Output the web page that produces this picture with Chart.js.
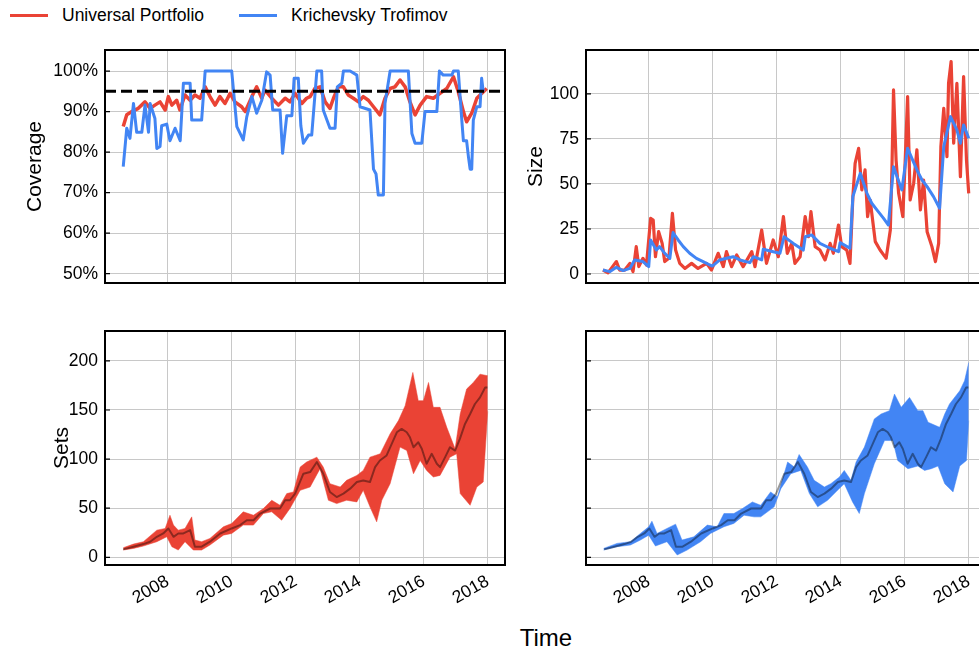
<!DOCTYPE html>
<html lang="en">
<head>
<meta charset="UTF-8">
<title>Coverage, Size and Sets over Time</title>
<script src="https://cdn.jsdelivr.net/npm/chart.js"></script>
<style>
  html, body { margin: 0; padding: 0; background: #fff; }
  body {
    width: 979px; height: 655px; overflow: hidden; position: relative;
    font-family: 'Liberation Sans', Arial, sans-serif; color: #000;
  }
  .panel { position: absolute; }
  .legend { position: absolute; top: 5px; left: 10px; height: 20px; display: flex; align-items: center; font-size: 17.5px; }
  .legend .item { display: flex; align-items: center; margin-right: 35px; }
  .legend .swatch { display: inline-block; width: 38px; height: 3px; margin-right: 14px; }
  .xlabel { position: absolute; left: 446px; width: 200px; top: 624px; line-height: 28px; font-size: 24px; text-align: center; }
</style>
</head>
<body>
  <div class="legend">
    <span class="item"><span class="swatch" style="background:#EA4335"></span>Universal Portfolio</span>
    <span class="item"><span class="swatch" style="background:#4285F4"></span>Krichevsky Trofimov</span>
  </div>
  <canvas id="coverage" class="panel" width="515" height="250" style="left:0;top:40px"></canvas>
  <canvas id="size" class="panel" width="500" height="250" style="left:500px;top:40px"></canvas>
  <canvas id="setsUp" class="panel" width="515" height="300" style="left:0;top:320px"></canvas>
  <canvas id="setsKt" class="panel" width="500" height="300" style="left:500px;top:320px"></canvas>
  <div class="xlabel">Time</div>

<script>
// ---- data (decimal years / values) ----
const yearTicks = [2008, 2010, 2012, 2014, 2016, 2018];
const coverageTicks = [50, 60, 70, 80, 90, 100];
const sizeTicks = [0, 25, 50, 75, 100];
const setsTicks = [0, 50, 100, 150, 200];
const coverageTarget = 95;

// coverage, Universal Portfolio
const covUpYears = [2006.61, 2006.72, 2006.88, 2007.08, 2007.29, 2007.45, 2007.60, 2007.76, 2007.92, 2008.02, 2008.13, 2008.28, 2008.38, 2008.54, 2008.70, 2008.85, 2009.01, 2009.17, 2009.32, 2009.48, 2009.63, 2009.79, 2009.95, 2010.10, 2010.31, 2010.42, 2010.63, 2010.78, 2010.94, 2011.04, 2011.25, 2011.46, 2011.67, 2011.82, 2011.98, 2012.19, 2012.34, 2012.45, 2012.60, 2012.76, 2012.92, 2013.07, 2013.18, 2013.33, 2013.49, 2013.64, 2013.80, 2013.96, 2014.11, 2014.27, 2014.43, 2014.63, 2014.79, 2014.95, 2015.10, 2015.26, 2015.42, 2015.57, 2015.73, 2015.89, 2016.09, 2016.30, 2016.51, 2016.72, 2016.93, 2017.08, 2017.24, 2017.34, 2017.50, 2017.66, 2017.81, 2017.97];
const covUp = [86.3, 89.2, 90, 90.8, 92.4, 90.8, 91.6, 92.4, 90.4, 93.7, 91.6, 92.8, 90.4, 94.1, 92.8, 94.1, 93.3, 96.1, 93.7, 91.6, 93.7, 92, 94.5, 92.4, 91.2, 90, 93.7, 96.1, 93.3, 95.3, 93.3, 91.6, 93.3, 92.4, 94.5, 92, 93.3, 93.7, 95.7, 96.1, 92.4, 90.8, 93.3, 96.1, 96.1, 94.1, 93.3, 92.4, 93.7, 92.8, 91.2, 89.2, 93.3, 95.7, 96.1, 97.8, 96.1, 92.4, 89.2, 91.6, 93.7, 93.3, 94.5, 95.7, 98.6, 94.9, 90, 87.5, 89.6, 93.3, 94.5, 95.7];

// coverage, Krichevsky Trofimov
const covKtYears = [2006.61, 2006.72, 2006.82, 2006.93, 2007.03, 2007.19, 2007.29, 2007.40, 2007.45, 2007.60, 2007.66, 2007.76, 2007.81, 2007.97, 2008.07, 2008.23, 2008.39, 2008.49, 2008.70, 2008.75, 2009.06, 2009.17, 2010.00, 2010.16, 2010.36, 2010.47, 2010.63, 2010.78, 2010.94, 2011.09, 2011.20, 2011.28, 2011.51, 2011.59, 2011.72, 2011.88, 2011.95, 2012.08, 2012.16, 2012.24, 2012.40, 2012.50, 2012.66, 2012.81, 2012.86, 2013.07, 2013.23, 2013.30, 2013.44, 2013.49, 2013.70, 2013.91, 2014.01, 2014.32, 2014.43, 2014.51, 2014.58, 2014.74, 2014.79, 2014.95, 2015.52, 2015.63, 2015.73, 2015.94, 2016.04, 2016.41, 2016.49, 2016.61, 2016.88, 2016.93, 2017.08, 2017.19, 2017.24, 2017.34, 2017.40, 2017.45, 2017.50, 2017.55, 2017.66, 2017.76, 2017.81, 2017.86];
const covKt = [76.4, 85.9, 83.4, 92, 84.9, 84.9, 91.6, 84.9, 92, 88.3, 80.9, 81.4, 86.5, 86.9, 82.8, 85.9, 82.8, 97, 97, 87.9, 87.9, 100, 100, 86.3, 83, 88.7, 93.7, 89.6, 92.8, 99.8, 99, 90.4, 90.4, 79.7, 89, 89, 98.2, 98.2, 86.5, 82.2, 84.2, 84.2, 100, 100, 90.4, 85.9, 85.9, 96.1, 97, 100, 100, 99, 91.2, 90.4, 75.8, 74.6, 69.4, 69.4, 92, 100, 100, 84.6, 82.2, 82.2, 90, 90, 100, 99, 99, 100, 100, 87.9, 82.8, 82.8, 78.7, 75.8, 75.8, 87.9, 91.2, 91.2, 98.2, 95];

// size, Universal Portfolio
const sizeUpYears = [2006.57, 2006.73, 2006.83, 2006.99, 2007.09, 2007.25, 2007.41, 2007.51, 2007.61, 2007.69, 2007.82, 2007.93, 2008.06, 2008.14, 2008.21, 2008.31, 2008.42, 2008.50, 2008.63, 2008.74, 2008.84, 2008.97, 2009.13, 2009.34, 2009.54, 2009.81, 2009.96, 2010.17, 2010.33, 2010.43, 2010.59, 2010.75, 2010.95, 2011.22, 2011.32, 2011.53, 2011.68, 2011.89, 2012.05, 2012.21, 2012.33, 2012.47, 2012.57, 2012.73, 2012.89, 2012.99, 2013.07, 2013.20, 2013.35, 2013.51, 2013.67, 2013.77, 2013.93, 2014.03, 2014.19, 2014.29, 2014.38, 2014.45, 2014.56, 2014.66, 2014.76, 2014.84, 2014.92, 2015.08, 2015.23, 2015.42, 2015.55, 2015.60, 2015.65, 2015.73, 2015.81, 2015.94, 2016.02, 2016.09, 2016.17, 2016.28, 2016.38, 2016.49, 2016.59, 2016.70, 2016.85, 2016.96, 2017.06, 2017.13, 2017.22, 2017.32, 2017.37, 2017.45, 2017.53, 2017.63, 2017.74, 2017.84, 2017.93, 2018.00];
const sizeUp = [2.2, 0.7, 3.1, 6.9, 2.2, 2.2, 5.9, 1.3, 15.2, 4.1, 8.7, 5, 30.9, 30, 9.6, 23.5, 17, 6.9, 8.7, 33.7, 13.3, 5.9, 3.1, 5.9, 3.1, 5.9, 2.2, 11.5, 4.1, 12.4, 4.1, 10.6, 4.1, 12.4, 4.1, 24.4, 5.9, 18.9, 9.6, 31.9, 11.5, 17, 5.9, 9.6, 31.9, 20.7, 34.6, 15.2, 13.3, 7.8, 17, 11.5, 27.2, 15.2, 13.3, 5.9, 43, 61.5, 69.8, 46.7, 57.8, 31.9, 41.1, 18, 13.3, 8.7, 24.4, 57.8, 102.2, 63.3, 44.8, 31.9, 65.2, 98.5, 41.1, 50.4, 68.9, 35.6, 52.2, 23.5, 15.2, 6.9, 17, 70.7, 92, 65.2, 105.9, 118, 72.6, 105.9, 54.1, 109.6, 63.3, 44.8];

// size, Krichevsky Trofimov
const sizeKtYears = [2006.57, 2006.78, 2006.99, 2007.20, 2007.41, 2007.56, 2007.82, 2008.00, 2008.06, 2008.24, 2008.34, 2008.50, 2008.66, 2008.76, 2008.92, 2009.08, 2009.28, 2009.49, 2009.70, 2009.91, 2009.99, 2010.22, 2010.43, 2010.64, 2010.85, 2011.16, 2011.27, 2011.53, 2011.58, 2011.89, 2012.10, 2012.23, 2012.52, 2012.83, 2012.89, 2013.09, 2013.35, 2013.67, 2013.93, 2013.98, 2014.29, 2014.38, 2014.61, 2014.82, 2014.97, 2015.13, 2015.34, 2015.49, 2015.65, 2015.91, 2016.09, 2016.38, 2016.54, 2016.70, 2016.90, 2017.09, 2017.22, 2017.43, 2017.63, 2017.74, 2017.84, 2018.00];
const sizeKt = [2.2, 1.3, 3.7, 1.9, 3.1, 7.8, 6.9, 4.1, 18.9, 13.3, 15.2, 11.5, 8.7, 23, 18.9, 15.2, 11.5, 8.7, 6.9, 5, 4.4, 7.8, 8.7, 9.6, 7.8, 6.3, 9.6, 7.8, 13.7, 12.4, 11.5, 20.7, 17, 13.3, 20.7, 21.7, 17, 14.3, 12.4, 17.4, 14.3, 43, 55.9, 44.8, 39.3, 35.6, 30.9, 27.2, 59.6, 46.7, 69.8, 57.8, 52.2, 48.5, 43, 36.5, 70.7, 87.4, 80, 72.6, 82.8, 75.4];

// sets: the series itself (dark line) and the band of each method
const priceYears = [2006.61, 2006.93, 2007.24, 2007.45, 2007.66, 2007.86, 2008.02, 2008.18, 2008.33, 2008.49, 2008.70, 2008.85, 2009.06, 2009.32, 2009.64, 2010.00, 2010.26, 2010.47, 2010.68, 2010.89, 2011.20, 2011.51, 2011.67, 2011.82, 2011.98, 2012.24, 2012.45, 2012.66, 2012.86, 2013.07, 2013.28, 2013.49, 2013.70, 2013.91, 2014.11, 2014.32, 2014.48, 2014.63, 2014.84, 2015.00, 2015.16, 2015.31, 2015.47, 2015.57, 2015.68, 2015.83, 2015.94, 2016.09, 2016.25, 2016.41, 2016.51, 2016.67, 2016.82, 2016.98, 2017.13, 2017.29, 2017.45, 2017.60, 2017.76, 2017.92, 2017.99];
const price = [8.1, 10.8, 13.5, 15.9, 20.9, 24.3, 29.4, 20.9, 24.3, 24.3, 27.7, 10.8, 10.8, 15.9, 24.3, 29.4, 32.8, 37.8, 37.8, 44.6, 49.7, 49.7, 58.1, 58.1, 64.9, 85.1, 86.8, 97, 85.1, 66.5, 61.4, 64.9, 69.9, 76.6, 78.3, 76.6, 91.8, 98.6, 103.7, 115.5, 127.3, 130.7, 127.3, 122.2, 112.1, 117.2, 110.5, 95.3, 105.4, 95.3, 91.8, 102, 112.1, 108.7, 120.6, 135.8, 145.9, 156.1, 162.8, 172.9, 172.9];

const upHiYears = [2006.61, 2006.93, 2007.24, 2007.66, 2007.92, 2008.07, 2008.18, 2008.33, 2008.54, 2008.75, 2008.85, 2009.06, 2009.32, 2009.74, 2010.00, 2010.36, 2010.68, 2010.99, 2011.25, 2011.51, 2011.72, 2011.93, 2012.14, 2012.34, 2012.66, 2012.86, 2013.07, 2013.39, 2013.59, 2013.91, 2014.11, 2014.32, 2014.64, 2014.95, 2015.21, 2015.42, 2015.66, 2015.83, 2015.99, 2016.15, 2016.30, 2016.51, 2016.72, 2016.98, 2017.14, 2017.34, 2017.55, 2017.76, 2018.00];
const upHi = [9.8, 13.5, 15.9, 27.7, 29.4, 42.9, 32.8, 27.7, 29.4, 41.2, 17.6, 15.9, 19.3, 31.1, 34.5, 46.3, 42.9, 49.7, 58.1, 53, 64.9, 66.6, 91.9, 97, 102, 91.9, 75, 71.6, 78.4, 83.4, 88.5, 102, 105.4, 125.7, 139.2, 154.4, 188.2, 159.5, 159.5, 178, 152.7, 152.7, 132.4, 110.5, 145.9, 171.3, 178, 186.5, 184.8];
const upLoYears = [2006.61, 2006.93, 2007.24, 2007.66, 2007.97, 2008.13, 2008.33, 2008.54, 2008.80, 2009.06, 2009.32, 2009.74, 2010.00, 2010.36, 2010.68, 2010.99, 2011.25, 2011.56, 2011.82, 2012.14, 2012.45, 2012.76, 2013.02, 2013.28, 2013.59, 2013.91, 2014.11, 2014.32, 2014.53, 2014.69, 2014.95, 2015.26, 2015.47, 2015.68, 2015.89, 2016.09, 2016.30, 2016.51, 2016.82, 2017.03, 2017.14, 2017.45, 2017.66, 2017.86, 2018.00];
const upLo = [7.4, 9.1, 11.5, 15.9, 20.9, 10.8, 7.4, 15.9, 7.4, 7.4, 12.5, 22.6, 24.3, 32.8, 32.8, 44.6, 46.3, 37.8, 49.7, 68.2, 71.6, 90.2, 58.1, 54.7, 58.1, 56.4, 68.2, 51.4, 36.1, 58.1, 75, 112.2, 108.8, 85.1, 98.6, 88.5, 81.8, 83.4, 102, 105.4, 64.9, 53, 71.6, 76.7, 148.6];

const ktHiYears = [2006.59, 2007.01, 2007.43, 2007.74, 2008.00, 2008.10, 2008.26, 2008.57, 2008.84, 2009.04, 2009.41, 2009.83, 2010.14, 2010.35, 2010.66, 2010.93, 2011.24, 2011.50, 2011.81, 2012.02, 2012.34, 2012.55, 2012.70, 2012.96, 2013.17, 2013.49, 2013.69, 2013.96, 2014.11, 2014.32, 2014.48, 2014.74, 2015.05, 2015.26, 2015.52, 2015.68, 2015.89, 2016.15, 2016.41, 2016.57, 2016.73, 2017.09, 2017.25, 2017.40, 2017.72, 2017.87, 2018.00];
const ktHi = [9.1, 14.2, 15.9, 24.3, 31.1, 36.8, 24.3, 29.4, 33.8, 17.6, 20.9, 32.8, 31.1, 44.6, 44.6, 49.7, 56.4, 53, 66.6, 61.5, 97, 91.9, 104.7, 91.9, 78.4, 71.6, 75, 81.8, 88.5, 78.4, 97, 112.2, 140.9, 145.9, 149.3, 166.2, 152.7, 162.8, 149.3, 149.3, 137.5, 132.4, 145.9, 156.1, 169.6, 179.7, 198.3];
const ktLoYears = [2006.59, 2007.01, 2007.43, 2007.74, 2008.00, 2008.21, 2008.57, 2008.89, 2009.20, 2009.62, 2009.93, 2010.35, 2010.66, 2010.98, 2011.29, 2011.50, 2011.92, 2012.13, 2012.44, 2012.75, 2013.02, 2013.28, 2013.59, 2013.90, 2014.11, 2014.37, 2014.58, 2014.74, 2015.05, 2015.37, 2015.63, 2015.78, 2016.10, 2016.41, 2016.62, 2016.83, 2017.04, 2017.25, 2017.51, 2017.72, 2017.93, 2018.00];
const ktLo = [7.4, 10.8, 12.5, 17.6, 22.6, 11.5, 15.9, 2.4, 7.4, 15.9, 24.3, 31.1, 34.5, 42.9, 41.2, 41.2, 51.4, 69.9, 85.1, 88.5, 64.9, 51.4, 58.1, 68.2, 75, 56.4, 44.6, 64.9, 95.3, 118.9, 118.9, 98.6, 90.2, 92.9, 88.5, 90.2, 92.9, 75, 66.6, 92.9, 98.6, 139.2];

// ---- styling ----
const RED = '#EA4335';
const BLUE = '#4285F4';
const GRID = '#c8c8c8';
const xMin = 2006.04, xMax = 2018.54;

Chart.defaults.font.family = "'Liberation Sans', Arial, sans-serif";
Chart.defaults.color = '#000';

const pts = (xs, ys) => xs.map((x, i) => ({x: x, y: ys[i]}));

// black box round the plot area plus short inward y ticks
const framePlugin = {
    id: 'frame',
    afterDatasetsDraw(chart) {
        const {ctx, chartArea: a} = chart;
        const y = chart.scales.y;
        ctx.save();
        ctx.strokeStyle = '#000';
        ctx.lineWidth = 1.2;
        ctx.beginPath();
        y.ticks.forEach(t => {
            const py = y.getPixelForValue(t.value);
            ctx.moveTo(a.left, py);
            ctx.lineTo(a.left + 5, py);
        });
        ctx.stroke();
        ctx.lineWidth = 2;
        ctx.strokeRect(a.left, a.top, a.right - a.left, a.bottom - a.top);
        ctx.restore();
    }
};

function line(data, color, width, extra) {
    return Object.assign({
        data: data,
        borderColor: color,
        borderWidth: width,
        borderJoinStyle: 'round',
        pointRadius: 0,
        fill: false,
        tension: 0
    }, extra || {});
}

function xScale(showLabels) {
    return {
        type: 'linear',
        min: xMin,
        max: xMax,
        afterBuildTicks: s => { s.ticks = yearTicks.map(v => ({value: v})); },
        afterFit: s => {
            s.height = showLabels ? 55 : 7;
            s.paddingLeft = s.paddingRight = s.paddingTop = s.paddingBottom = 0;
        },
        grid: { color: GRID, lineWidth: 1, drawTicks: false },
        border: { display: false },
        ticks: {
            display: showLabels,
            minRotation: 30,
            maxRotation: 30,
            padding: 6,
            font: { size: 17.5 },
            callback: v => String(v)
        }
    };
}

function yScale(min, max, tickList, width, opts) {
    return {
        type: 'linear',
        min: min,
        max: max,
        afterBuildTicks: s => { s.ticks = tickList.map(v => ({value: v})); },
        afterFit: s => {
            s.width = width;
            s.paddingLeft = s.paddingRight = s.paddingTop = s.paddingBottom = 0;
        },
        grid: { color: GRID, lineWidth: 1, drawTicks: false },
        border: { display: false },
        title: opts.title ? {
            display: true,
            text: opts.title,
            font: { size: 21 },
            padding: { top: opts.titlePad, bottom: 0 }
        } : { display: false },
        ticks: {
            display: opts.labels !== false,
            padding: 7,
            font: { size: 17.5 },
            callback: opts.fmt || (v => String(v))
        }
    };
}

function makeChart(id, datasets, x, y, padding) {
    return new Chart(document.getElementById(id), {
        type: 'line',
        data: { datasets: datasets },
        options: {
            responsive: false,
            animation: false,
            events: [],
            layout: { padding: padding },
            plugins: { legend: { display: false }, tooltip: { enabled: false } },
            scales: { x: x, y: y }
        },
        plugins: [framePlugin]
    });
}

// top left: coverage
makeChart('coverage', [
    line([{x: xMin, y: coverageTarget}, {x: xMax, y: coverageTarget}], '#000', 3, { borderDash: [11, 5] }),
    line(pts(covKtYears, covKt), BLUE, 3),
    line(pts(covUpYears, covUp), RED, 3.5)
], xScale(false), yScale(47.7, 105.2, coverageTicks, 105, { title: 'Coverage', titlePad: 23, fmt: v => v + '%' }),
{ top: 10, right: 10, left: 0, bottom: 0 });

// top right: size
makeChart('size', [
    line(pts(sizeKtYears, sizeKt), BLUE, 3),
    line(pts(sizeUpYears, sizeUp), RED, 3.2)
], xScale(false), yScale(-5, 124.4, sizeTicks, 86, { title: 'Size', titlePad: 24 }),
{ top: 10, right: 14, left: 0, bottom: 0 });

// bottom left: sets of Universal Portfolio
makeChart('setsUp', [
    line(pts(priceYears, price), 'rgba(0,0,0,0.4)', 2),
    line(pts(upHiYears, upHi), RED, 0.5, { fill: '+1', backgroundColor: RED }),
    line(pts(upLoYears, upLo), RED, 0.5)
], xScale(true), yScale(-7.8, 230.4, setsTicks, 105, { title: 'Sets', titlePad: 50 }),
{ top: 11, right: 10, left: 0, bottom: 0 });

// bottom right: sets of Krichevsky Trofimov (shares y with the left one)
makeChart('setsKt', [
    line(pts(priceYears, price), 'rgba(0,0,0,0.4)', 2),
    line(pts(ktHiYears, ktHi), BLUE, 0.5, { fill: '+1', backgroundColor: BLUE }),
    line(pts(ktLoYears, ktLo), BLUE, 0.5)
], xScale(true), yScale(-7.8, 230.4, setsTicks, 86, { labels: false }),
{ top: 11, right: 14, left: 0, bottom: 0 });
</script>
</body>
</html>
